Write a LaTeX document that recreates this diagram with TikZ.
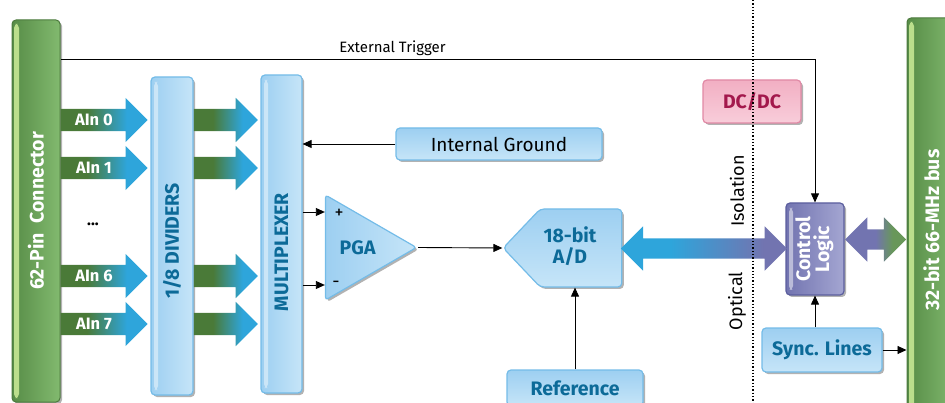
\documentclass[tikz,border=0pt]{standalone}
\usepackage{fontspec}
\setmainfont{Fira Sans}
\usetikzlibrary{shapes.arrows,shapes.geometric,shapes.symbols,shadows,arrows.meta,calc}

\definecolor{bardark}{HTML}{578C47}
\definecolor{barlight}{HTML}{82BA6F}
\definecolor{barline}{HTML}{4C7A3D}
\definecolor{barstripe}{HTML}{BBDE8C}
\definecolor{boxline}{HTML}{74BCE8}
\definecolor{boxtop}{HTML}{9DCFF1}
\definecolor{boxbot}{HTML}{C6E5F8}
\definecolor{boxtext}{HTML}{0C6A98}
\definecolor{arrgreen}{HTML}{4A7A38}
\definecolor{arrblue}{HTML}{2EA5DB}
\definecolor{purp}{HTML}{7274B0}
\definecolor{purplight}{HTML}{A4A6D2}
\definecolor{purpline}{HTML}{5B5E9E}
\definecolor{pinkline}{HTML}{E189A5}
\definecolor{pinktop}{HTML}{F2AFC3}
\definecolor{pinkbot}{HTML}{F8CDDA}
\definecolor{pinktext}{HTML}{A3184C}

\pgfdeclarehorizontalshading{greenblue}{100bp}{color(0bp)=(arrgreen); color(40bp)=(arrgreen);
  color(63bp)=(arrblue); color(100bp)=(arrblue)}
\pgfdeclarehorizontalshading{bluepurple}{100bp}{color(0bp)=(arrblue); color(40bp)=(arrblue);
  color(68bp)=(purp); color(100bp)=(purp)}
\pgfdeclarehorizontalshading{purplegreen}{100bp}{color(0bp)=(purp); color(50bp)=(purp);
  color(64bp)=(bardark!90!white); color(100bp)=(bardark!90!white)}

\tikzset{
  shade/.style={drop shadow={shadow xshift=2pt, shadow yshift=-2pt, opacity=.3, fill=black}},
  bold label/.style={font=\fontsize{19.5}{23}\selectfont\bfseries},
  greenbar/.style={draw=barline, line width=1pt, rounded corners=4pt, shade,
      left color=bardark, right color=barlight, text=white, bold label,
      path picture={\fill[barstripe] ([xshift=2pt,yshift=-4pt]path picture bounding box.north west)
        rectangle ([xshift=7pt,yshift=4pt]path picture bounding box.south west);}},
  vbox/.style={draw=boxline, line width=1.2pt, rounded corners=4pt, shade,
      left color=boxtop, right color=boxbot, text=boxtext, bold label,
      path picture={\fill[white, opacity=.45] ([xshift=3pt,yshift=-5pt]path picture bounding box.north west)
        rectangle ([xshift=7pt,yshift=5pt]path picture bounding box.south west);}},
  hbox/.style={draw=boxline, line width=1.2pt, rounded corners=4pt, shade,
      top color=boxtop, bottom color=boxbot, text=boxtext, bold label, align=center},
  pinkbox/.style={draw=pinkline, line width=1.2pt, rounded corners=4pt, shade,
      top color=pinktop, bottom color=pinkbot, text=pinktext, bold label},
  ctlbox/.style={draw=purpline, line width=1.2pt, rounded corners=4pt, shade,
      left color=purp, right color=purplight, text=white, bold label,
      path picture={\fill[white, opacity=.5] ([xshift=3pt,yshift=-5pt]path picture bounding box.north west)
        rectangle ([xshift=7pt,yshift=5pt]path picture bounding box.south west);}},
  fatarrow/.style={single arrow, draw=none, inner sep=0pt, text height=22pt, text depth=0pt,
      single arrow head extend=11pt, single arrow tip angle=90, single arrow head indent=0pt,
      shading=greenblue},
  busarrow/.style={double arrow, draw=none, inner sep=0pt, text height=20pt, text depth=0pt,
      double arrow head extend=12pt, double arrow tip angle=90, double arrow head indent=0pt},
  wire/.style={line width=0.9pt, -{Triangle[length=9pt,width=8pt]}},
  plain label/.style={font=\fontsize{18}{21}\selectfont}
}

\begin{document}
\begin{tikzpicture}[x=1pt,y=-1pt]
  \useasboundingbox (0,0) rectangle (945,403);

  % edge connectors
  \node[greenbar, minimum width=48, minimum height=382] (conn) at (36,211) {\rotatebox{90}{62-Pin\enspace Connector}};
  \node[greenbar, minimum width=50, minimum height=424] (bus) at (932,230) {\rotatebox{90}{\raisebox{1.5pt}{32-bit 66-MHz bus}}};

  % dividers and multiplexer
  \node[vbox, minimum width=42, minimum height=318] (div) at (172,236) {\rotatebox{90}{1/8 DIVIDERS\hspace{10pt}}};
  \node[vbox, minimum width=41, minimum height=318] (mux) at (281.5,234) {\rotatebox{90}{MULTIPLEXER\hspace{36pt}}};

  \foreach \y/\n in {120/0,168/1,276/6,324/7} {
      \node[fatarrow, anchor=tail, minimum height=87] (ain\n) at (conn.east |- 0,\y) {};
      \node[font=\fontsize{16.5}{19}\selectfont\bfseries, text=white] (lbl\n) at (94,\y) {AIn \n};
      \node[fatarrow, anchor=tail, minimum height=64] (ch\n) at (div.east |- 0,\y) {};
    }
  \node[font=\fontsize{16}{19}\selectfont\bfseries] (dots) at (93,224) {...};

  \node[hbox, font=\fontsize{19}{22}\selectfont, text=black, minimum width=206, minimum height=32] (ignd) at (499,144) {Internal Ground};
  \draw[wire] (ignd.west) -- (ignd.west -| mux.east);

  % amplifier and converter
  \node[isosceles triangle, isosceles triangle stretches, draw=boxline, line width=1.2pt, rounded corners=3pt, shade,
    left color=boxtop, right color=boxbot, text=boxtext, bold label,
    minimum width=105, minimum height=91, inner sep=0pt, anchor=apex] (pga) at (418,247.5) {PGA\hspace{8pt}};
  \draw[wire] (mux.east |- 0,212) -- (pga.lower side |- 0,212);
  \draw[wire] (mux.east |- 0,285) -- (pga.lower side |- 0,285);
  \node[plain label] (plus) at (339,214) {+};
  \node[plain label] (minus) at (336,284) {-};

  \node[hbox, signal, signal to=west, signal pointer angle=93, minimum width=110, minimum height=78] (adc) at (581,248)
    {\begin{tabular}{@{}c@{\hspace{22pt}}}18-bit\\[-2pt]A/D\end{tabular}};
  \draw[wire] (pga.apex) -- (adc.west);

  \node[hbox, minimum width=136, minimum height=36] (ref) at (575,388) {Reference};
  \draw[wire] (ref.north) -- (ref.north |- adc.south);

  % isolated side
  \node[pinkbox, minimum width=98, minimum height=43] (dcdc) at (752,101.5) {DC/DC};
  \node[ctlbox, minimum width=58, minimum height=92] (ctl) at (815,249)
    {\rotatebox{90}{\begin{tabular}{@{}c@{}}Control\\[-4pt]Logic\end{tabular}}};
  \node[hbox, minimum width=120, minimum height=44] (sync) at (822,350) {Sync. Lines};

  \node[busarrow, shading=bluepurple, minimum height=166] (adlink) at ($(adc.east)!.5!(ctl.west)$) {};
  \node[busarrow, shading=purplegreen, minimum height=61] (buslink) at ($(ctl.east)!.5!(bus.west)$) {};

  \draw[wire] (conn.east |- 0,59) -| node[pos=0.22, above, font=\fontsize{15}{18}\selectfont] {External Trigger} (ctl.north);
  \draw[wire] (sync.north -| ctl.south) -- (ctl.south);
  \draw[wire] (sync.east) -- (sync.east -| bus.west);

  \draw[dotted, line width=1.3pt] (753,0) -- (753,403);
  \node[plain label, rotate=90] (iso) at (737,191) {Isolation};
  \node[plain label, rotate=90] (opt) at (737,301) {Optical};
\end{tikzpicture}
\end{document}
